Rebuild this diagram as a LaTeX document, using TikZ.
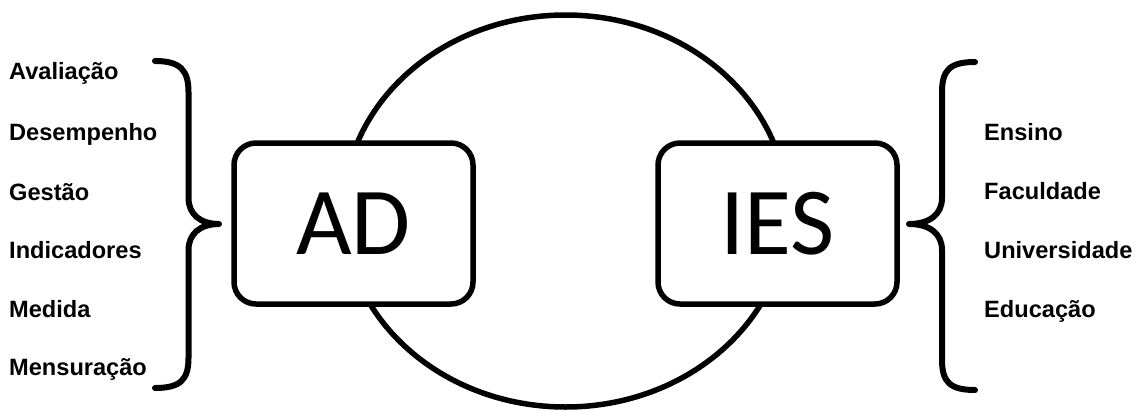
\documentclass[tikz,border=0pt]{standalone}
\usepackage{fontspec}
\setmainfont{Liberation Sans}
\newfontfamily\calib{Carlito}
\usetikzlibrary{shapes.geometric}
\begin{document}
\begin{tikzpicture}[x=1pt,y=-1pt,
  lbl/.style={font=\bfseries\fontsize{23.6}{27}\selectfont, anchor=base west, inner sep=0pt},
  box/.style={draw, line width=5.5pt, rounded corners=22pt, fill=white, minimum width=239pt, minimum height=161pt, inner sep=0pt, font=\calib\fontsize{96}{110}\selectfont},
  ring/.style={draw, ellipse, line width=5.5pt, minimum width=444pt, minimum height=392pt, inner sep=0pt},
  brace/.style={line width=6pt, line cap=round, line join=round}]
\useasboundingbox (0,0) rectangle (1137,410);
\node[ring] (ring) at (565.5,211) {};
\node[box] (ad) at (353.5,223.5) {AD};
\node[box] (ies) at (777.5,223.5) {IES};
% left labels
\node[lbl] (l1) at (9,79) {Avaliação};
\node[lbl] (l2) at (9,140) {Desempenho};
\node[lbl] (l3) at (9,200) {Gestão};
\node[lbl] (l4) at (9,258) {Indicadores};
\node[lbl] (l5) at (9,317) {Medida};
\node[lbl] (l6) at (9,375) {Mensuração};
% right labels
\node[lbl] (r1) at (984,140) {Ensino};
\node[lbl] (r2) at (984,199) {Faculdade};
\node[lbl] (r3) at (984,258) {Universidade};
\node[lbl] (r4) at (984,317) {Educação};
% braces
\draw[brace] (155,61) .. controls (180,61) and (188.5,70) .. (188.5,92) -- (188.5,198)
  .. controls (188.5,214) and (200,224) .. (219,224)
  .. controls (200,224) and (188.5,234) .. (188.5,250) -- (188.5,358)
  .. controls (188.5,380) and (180,388) .. (155,388);
\draw[brace] (975,62) .. controls (950,62) and (942,70) .. (942,92) -- (942,198)
  .. controls (942,214) and (930,224) .. (909,224)
  .. controls (930,224) and (942,234) .. (942,250) -- (942,360)
  .. controls (942,382) and (950,390) .. (975,390);
\end{tikzpicture}
\end{document}
